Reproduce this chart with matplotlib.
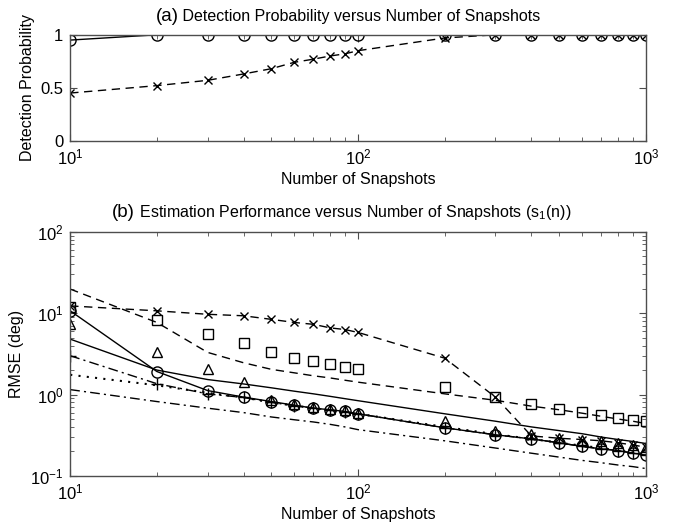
import numpy as np
import matplotlib.pyplot as plt
from matplotlib.ticker import LogLocator, NullFormatter

plt.rcParams['font.family'] = ['Liberation Sans', 'DejaVu Sans']
plt.rcParams['mathtext.fontset'] = 'custom'
plt.rcParams['mathtext.rm'] = 'Liberation Sans'
plt.rcParams['mathtext.it'] = 'Liberation Sans'

# -----------------------
# Data
# -----------------------

snapshots = [10, 20, 30, 40, 50, 60, 70, 80, 90, 100,
             200, 300, 400, 500, 600, 700, 800, 900, 1000]

# detection probability
pd_circle = [0.95, 1, 1, 1, 1, 1, 1, 1, 1, 1,
             1, 1, 1, 1, 1, 1, 1, 1, 1]
pd_cross = [0.45, 0.52, 0.57, 0.63, 0.68, 0.74, 0.77, 0.80, 0.82, 0.85,
            0.97, 1, 1, 1, 1, 1, 1, 1, 1]

# RMSE (deg)
rmse_cross = [12.3, 10.7, 9.7, 9.3, 8.4, 7.7, 7.3, 6.6, 6.3, 5.8,
              2.8, 0.93, 0.31, 0.29, 0.28, 0.27, 0.255, 0.24, 0.225]
rmse_square = [12.0, 8.3, 5.5, 4.35, 3.37, 2.84, 2.56, 2.4, 2.19, 2.07,
               1.24, 0.93, 0.77, 0.67, 0.61, 0.56, 0.52, 0.49, 0.47]
bound_dashed = [19.8, 7.7, 3.3, 2.46, 2.04, 1.85, 1.7, 1.6, 1.5, 1.42,
                1.02, 0.85, 0.72, 0.65, 0.59, 0.54, 0.5, 0.47, 0.44]
rmse_circle = [10.7, 1.92, 1.12, 0.93, 0.82, 0.74, 0.68, 0.65, 0.62, 0.58,
               0.39, 0.32, 0.285, 0.255, 0.23, 0.215, 0.205, 0.19, 0.18]
rmse_triangle = [7.3, 3.3, 2.04, 1.42, 0.86, 0.77, 0.71, 0.67, 0.64, 0.6,
                 0.47, 0.36, 0.325, 0.29, 0.28, 0.27, 0.255, 0.24, 0.225]
bound_solid = [4.8, 2.0, 1.53, 1.35, 1.21, 1.1, 1.02, 0.95, 0.89, 0.84,
               0.58, 0.47, 0.40, 0.36, 0.33, 0.30, 0.28, 0.265, 0.25]
rmse_plus = [3.0, 1.36, 1.02, 0.92, 0.8, 0.73, 0.68, 0.64, 0.61, 0.58,
             0.39, 0.32, 0.285, 0.255, 0.23, 0.215, 0.205, 0.19, 0.18]
bound_dotted = [1.75, 1.3, 1.05, 0.92, 0.8, 0.73, 0.68, 0.64, 0.61, 0.58,
                0.4, 0.325, 0.285, 0.255, 0.235, 0.22, 0.205, 0.195, 0.185]
bound_dashdot = [1.15, 0.82, 0.68, 0.6, 0.53, 0.49, 0.46, 0.43, 0.40, 0.37,
                 0.27, 0.22, 0.19, 0.17, 0.155, 0.145, 0.136, 0.13, 0.123]

# -----------------------
# Figure
# -----------------------

fig = plt.figure(figsize=(6.75, 5.27), dpi=100)
ax1 = fig.add_axes([0.104, 0.733, 0.853, 0.201])
ax2 = fig.add_axes([0.104, 0.097, 0.853, 0.463])

dash = (0, (6, 4))
dashdot = (0, (7, 3, 1.5, 3))
mk = dict(markerfacecolor='none', markeredgecolor='k', markeredgewidth=1.0)

ax1.plot(snapshots, pd_circle, '-', color='k', lw=1.0, marker='o', ms=8, **mk)
ax1.plot(snapshots, pd_cross, color='k', lw=1.0, linestyle=dash, marker='x', ms=6, **mk)

ax2.plot(snapshots, rmse_cross, color='k', lw=1.0, linestyle=dash, marker='x', ms=6, **mk)
ax2.plot(snapshots, rmse_square, linestyle='none', marker='s', ms=6.5, **mk)
ax2.plot(snapshots, bound_dashed, color='k', lw=1.0, linestyle=dash)
ax2.plot(snapshots, rmse_circle, '-', color='k', lw=1.0, marker='o', ms=8, **mk)
ax2.plot(snapshots, rmse_triangle, linestyle='none', marker='^', ms=7.5, **mk)
ax2.plot(snapshots, bound_solid, '-', color='k', lw=1.0)
ax2.plot(snapshots, rmse_plus, color='k', lw=1.0, linestyle=dashdot,
         marker='+', ms=9, **mk)
ax2.plot(snapshots, bound_dotted, color='k', lw=1.5, linestyle=(0, (1, 3)))
ax2.plot(snapshots, bound_dashdot, color='k', lw=1.0, linestyle=dashdot)

for ax in (ax1, ax2):
    ax.set_xscale('log')
    ax.set_xlim(10, 1000)
    ax.xaxis.set_major_locator(LogLocator(base=10, numticks=5))
    ax.xaxis.set_minor_locator(LogLocator(base=10, subs=np.arange(2, 10), numticks=10))
    ax.xaxis.set_minor_formatter(NullFormatter())
    ax.tick_params(which='both', direction='in', top=True, right=True,
                   labelsize=12, color='0.3', pad=5)
    ax.tick_params(which='major', length=5)
    ax.tick_params(which='minor', length=3)
    for s in ax.spines.values():
        s.set_color('0.3')
        s.set_linewidth(1.0)
    ax.set_xlabel('Number of Snapshots', fontsize=11.5, labelpad=3)

ax1.set_ylim(0, 1)
ax1.set_yticks([0, 0.5, 1])
ax1.set_yticklabels(['0', '0.5', '1'])
ax1.set_ylabel('Detection Probability', fontsize=11.5)

ax2.set_yscale('log')
ax2.set_ylim(0.1, 100)
ax2.yaxis.set_major_locator(LogLocator(base=10, numticks=5))
ax2.yaxis.set_minor_locator(LogLocator(base=10, subs=np.arange(2, 10), numticks=10))
ax2.yaxis.set_minor_formatter(NullFormatter())
ax2.set_ylabel('RMSE (deg)', fontsize=11.5)

# titles: panel letter a bit larger than the rest of the line
for ax, x0, y0, letter, rest in [
        (ax1, 0.148, 1.13, '(a)', ' Detection Probability versus Number of Snapshots'),
        (ax2, 0.072, 1.06, '(b)', ' Estimation Performance versus Number of Snapshots '
                                  '($\\mathregular{s_1(n)}$)')]:
    t = ax.text(x0, y0, letter, transform=ax.transAxes, fontsize=13.5,
                ha='left', va='baseline')
    ax.annotate(rest, xy=(1, y0), xycoords=(t, ax.transAxes), fontsize=11.5,
                ha='left', va='baseline')

fig.savefig('out.png', dpi=100)
